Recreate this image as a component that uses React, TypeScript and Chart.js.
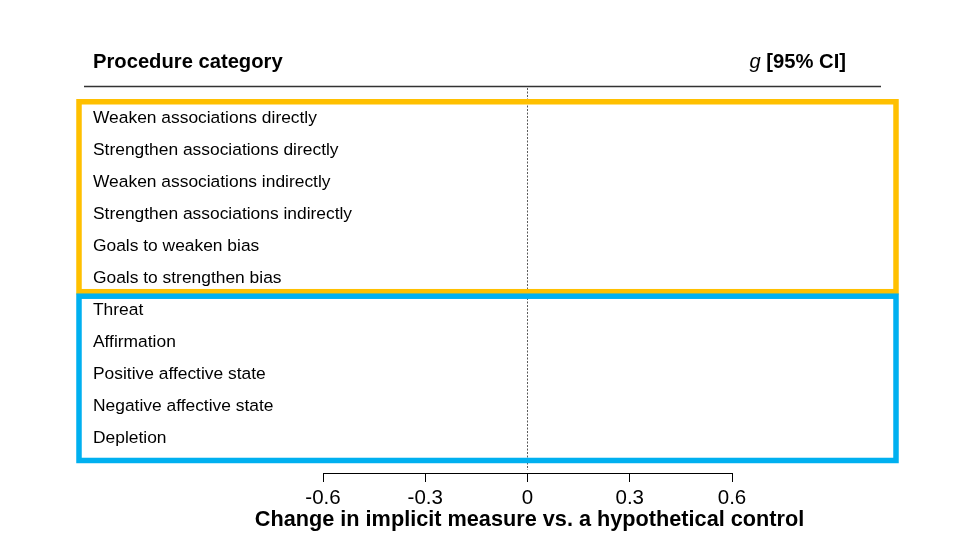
import React, { useEffect, useRef } from "react";
import { Chart, registerables } from "chart.js";

Chart.register(...registerables);

const categories: string[] = [
  "Weaken associations directly",
  "Strengthen associations directly",
  "Weaken associations indirectly",
  "Strengthen associations indirectly",
  "Goals to weaken bias",
  "Goals to strengthen bias",
  "Threat",
  "Affirmation",
  "Positive affective state",
  "Negative affective state",
  "Depletion",
];

// category groups (first row index, last row index) and their frame colours
const groupStart: number[] = [0, 6];
const groupEnd: number[] = [5, 10];
const groupColors: string[] = ["#FFC000", "#00B0F0"];

const xTickValues: number[] = [-0.6, -0.3, 0, 0.3, 0.6];
const xTickLabels: string[] = ["-0.6", "-0.3", "0", "0.3", "0.6"];

const headerLeft = "Procedure category";
const headerRightItalic = "g";
const headerRightRest = " [95% CI]";
const xTitle = "Change in implicit measure vs. a hypothetical control";

const FONT = "'Liberation Sans', Arial, Helvetica, sans-serif";

const forestPlugin = {
  id: "forestDecor",
  afterDraw(chart: any) {
    const { ctx, scales, chartArea } = chart;
    const x = scales.x;
    const y = scales.y;
    const W = chart.width;
    ctx.save();

    // header
    ctx.fillStyle = "#000";
    ctx.textBaseline = "alphabetic";
    ctx.textAlign = "left";
    ctx.font = `bold 20.2px ${FONT}`;
    ctx.fillText(headerLeft, 93, 68);
    const restW = ctx.measureText(headerRightRest).width;
    const rightEdge = 846;
    ctx.fillText(headerRightRest, rightEdge - restW, 68);
    ctx.font = `italic 20.2px ${FONT}`;
    const gW = ctx.measureText(headerRightItalic).width;
    ctx.fillText(headerRightItalic, rightEdge - restW - gW, 68);

    // header rule
    ctx.strokeStyle = "#333";
    ctx.lineWidth = 1.5;
    ctx.beginPath();
    ctx.moveTo(84, chartArea.top - 0.5);
    ctx.lineTo(881, chartArea.top - 0.5);
    ctx.stroke();

    // dotted zero line
    const x0 = Math.round(x.getPixelForValue(0)) - 0.5;
    ctx.strokeStyle = "#5a5a5a";
    ctx.lineWidth = 1;
    ctx.setLineDash([2, 1.5]);
    ctx.beginPath();
    ctx.moveTo(x0, chartArea.top + 1);
    ctx.lineTo(x0, chartArea.bottom - 3);
    ctx.stroke();
    ctx.setLineDash([]);

    // group frames
    ctx.lineWidth = 5.5;
    for (let g = 0; g < groupStart.length; g++) {
      const last = g === groupStart.length - 1;
      const t = y.getPixelForValue(groupStart[g] - (g === 0 ? 0.46 : 0.4));
      const bot = y.getPixelForValue(groupEnd[g] + (last ? 0.72 : 0.46));
      ctx.strokeStyle = groupColors[g];
      ctx.strokeRect(79, t, W - 79 - 64, bot - t);
    }

    // row labels
    ctx.fillStyle = "#000";
    ctx.font = `17.4px ${FONT}`;
    ctx.textAlign = "left";
    ctx.textBaseline = "alphabetic";
    categories.forEach((c, i) => {
      ctx.fillText(c, 93, y.getPixelForValue(i) + 6);
    });

    // x-axis title
    ctx.font = `bold 21.7px ${FONT}`;
    ctx.textAlign = "center";
    ctx.textBaseline = "alphabetic";
    ctx.fillText(xTitle, (chartArea.left + chartArea.right) / 2 + 2, 526);

    ctx.restore();
  },
};

export default function App() {
  const ref = useRef<HTMLCanvasElement | null>(null);
  useEffect(() => {
    if (!ref.current) return;
    const chart = new Chart(ref.current, {
      type: "scatter",
      data: { datasets: [] },
      options: {
        animation: false,
        responsive: false,
        devicePixelRatio: 1,
        layout: { padding: { left: 323, right: 228, top: 87, bottom: 0 } },
        plugins: { legend: { display: false }, tooltip: { enabled: false } },
        scales: {
          y: {
            type: "linear",
            reverse: true,
            min: -0.92,
            max: 11.11,
            display: false,
          },
          x: {
            type: "linear",
            min: -0.6,
            max: 0.6,
            afterBuildTicks: (s: any) => {
              s.ticks = xTickValues.map((v) => ({ value: v }));
            },
            afterFit: (s: any) => {
              s.height = 67;
            },
            ticks: {
              autoSkip: false,
              maxRotation: 0,
              padding: 4,
              color: "#000",
              font: { size: 20.5, family: FONT },
              callback: (_v: any, i: number) => xTickLabels[i],
            },
            grid: {
              drawOnChartArea: false,
              drawTicks: true,
              tickLength: 9,
              tickColor: "#000",
              tickWidth: 1,
              color: "#000",
            },
            border: { display: true, color: "#000", width: 1 },
            title: { display: false },
          },
        },
      },
      plugins: [forestPlugin],
    } as any);
    return () => chart.destroy();
  }, []);
  return (
    <div style={{ position: "absolute", left: 0, top: 0, width: 960, height: 540, background: "#fff" }}>
      <canvas ref={ref} width={960} height={540} style={{ display: "block" }} />
    </div>
  );
}
